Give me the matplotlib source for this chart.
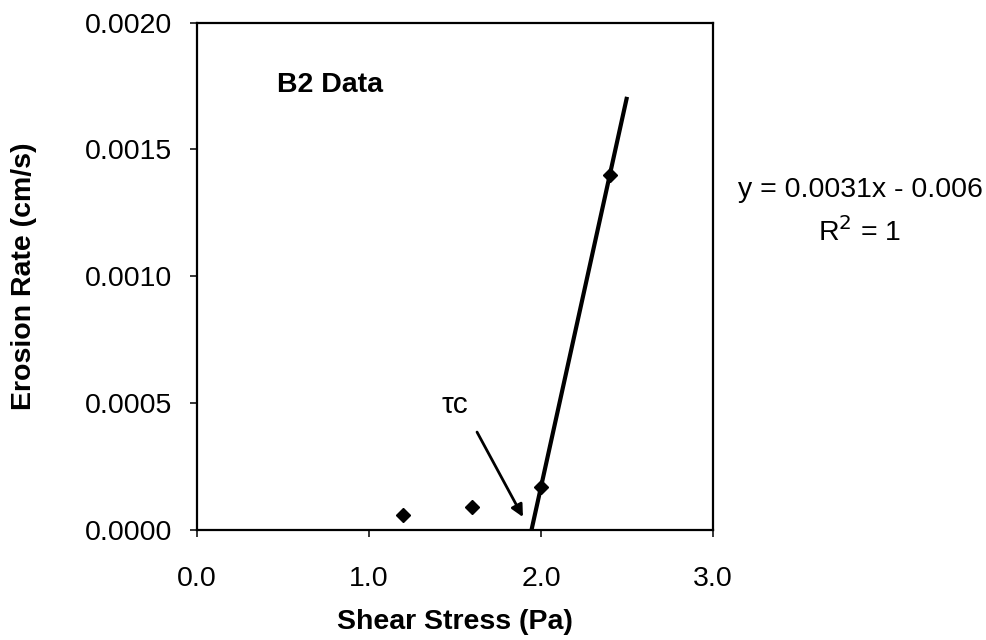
import numpy as np
import matplotlib
matplotlib.use("Agg")
import matplotlib.pyplot as plt
from matplotlib.ticker import FormatStrFormatter

plt.rcParams['font.family'] = ['Liberation Sans', 'DejaVu Sans']

# B2 erosion measurements
shear_stress = [1.2, 1.6, 2.0, 2.4]              # Pa
erosion_rate = [0.00006, 0.00009, 0.00017, 0.0014]  # cm/s

# linear trend through the points above the critical stress
fit_x = shear_stress[2:]
fit_y = erosion_rate[2:]
x_end = 2.5

x_ticks = [0.0, 1.0, 2.0, 3.0]
y_ticks = [0.0, 0.0005, 0.0010, 0.0015, 0.0020]

fs = 20.5

fig = plt.figure(figsize=(9.87, 6.4), dpi=100)
ax = fig.add_axes([0.1996, 0.1719, 0.5228, 0.7927])

slope, icept = np.polyfit(fit_x, fit_y, 1)
x0 = -icept / slope
xl = np.array([x0, x_end])
ax.plot(xl, slope * xl + icept, color='black', lw=3.0, solid_capstyle='butt', zorder=3)

ax.plot(shear_stress, erosion_rate, linestyle='none', marker='D', ms=7.2,
        color='black', zorder=4)

ax.set_xlim(0, 3.0)
ax.set_ylim(0, 0.0020)
ax.set_xticks(x_ticks)
ax.set_yticks(y_ticks)
ax.xaxis.set_major_formatter(FormatStrFormatter('%.1f'))
ax.yaxis.set_major_formatter(FormatStrFormatter('%.4f'))
ax.tick_params(axis='both', direction='out', length=5, width=1.1, labelsize=fs)
ax.tick_params(axis='x', pad=21)
ax.tick_params(axis='y', pad=13)
for s in ax.spines.values():
    s.set_linewidth(1.6)

ax.set_xlabel('Shear Stress (Pa)', fontsize=fs, fontweight='bold')
ax.set_ylabel('Erosion Rate (cm/s)', fontsize=fs, fontweight='bold')
ax.xaxis.set_label_coords(0.5, -0.155)
ax.yaxis.set_label_coords(-0.31, 0.5)

ax.text(0.465, 0.001754, 'B2 Data', fontsize=fs, fontweight='bold',
        ha='left', va='center')

# critical shear stress marker
ax.annotate('', xy=(1.895, 0.000051), xytext=(1.628, 0.000386),
            arrowprops=dict(arrowstyle='-|>', color='black', lw=2.0,
                            mutation_scale=18, shrinkA=0, shrinkB=0))
ax.text(1.50, 0.000493, 'τc', fontsize=fs + 1, ha='center', va='center')

# regression equation to the right of the plot
fig.text(860 / 987, 1 - 190 / 640, 'y = %.4fx - %.3f' % (slope, -icept),
         fontsize=fs, ha='center', va='center')
fig.text(860 / 987, 1 - 232 / 640, 'R$^2$ = 1', fontsize=fs,
         ha='center', va='center')

fig.savefig('out.png', dpi=100)
